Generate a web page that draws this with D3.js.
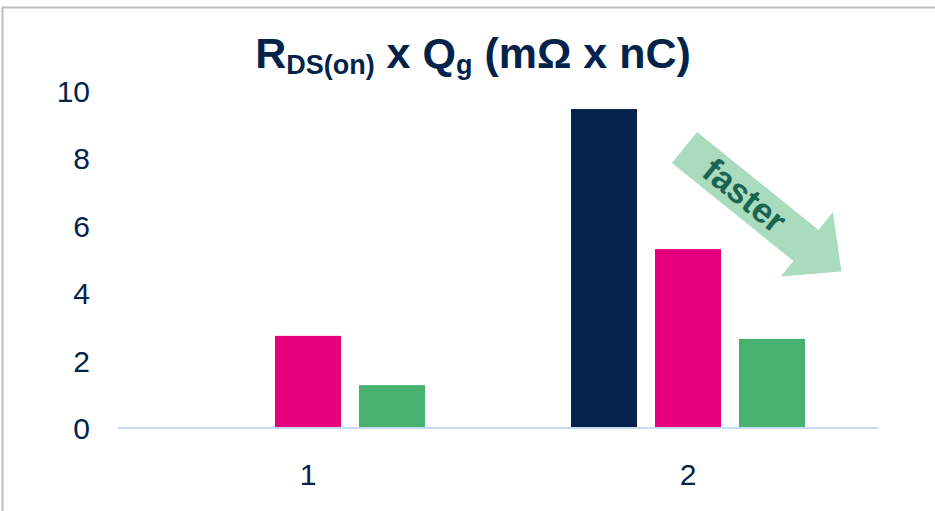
<!DOCTYPE html>
<html><head><meta charset="utf-8">
<script src="https://cdn.jsdelivr.net/npm/d3@7"></script>
<style>html,body{margin:0;padding:0;background:#fff;overflow:hidden}</style>
</head><body>
<svg id="c" width="935" height="511"></svg>
<script>
const categories = ["1", "2"];
const seriesNames = ["navy", "pink", "green"];
const navyValues = [null, 9.45];
const pinkValues = [2.73, 5.3];
const greenValues = [1.27, 2.64];
const yTicks = [0, 2, 4, 6, 8, 10];
const seriesColors = ["#03234B", "#E6007E", "#49B170"];

const font = "'Liberation Sans', Arial, sans-serif";
const navy = "#03234B";
const svg = d3.select("#c");

// frame
svg.append("path").attr("d", "M2.5,511 L2.5,7.5 L935,7.5")
  .attr("fill", "none").attr("stroke", "#BDBDBD").attr("stroke-width", 2);

const x0 = d3.scaleBand().domain(categories).range([118, 878]).paddingInner(0).paddingOuter(0);
const x1 = d3.scaleBand().domain(seriesNames).range([0, x0.bandwidth()]).paddingInner(0.214).paddingOuter(0.869);
const y = d3.scaleLinear().domain([0, 10]).range([428, 90.5]);

const seriesData = [navyValues, pinkValues, greenValues];
const rows = [];
categories.forEach((c, i) => seriesNames.forEach((s, j) => {
  const v = seriesData[j][i];
  if (v != null) rows.push({c, s, v, color: seriesColors[j]});
}));

svg.append("g").selectAll("rect").data(rows).join("rect")
  .attr("x", d => x0(d.c) + x1(d.s))
  .attr("width", x1.bandwidth())
  .attr("y", d => y(d.v))
  .attr("height", d => y(0) - y(d.v))
  .attr("fill", d => d.color);

// x axis baseline
svg.append("line").attr("x1", x0.range()[0]).attr("x2", x0.range()[1])
  .attr("y1", y(0)).attr("y2", y(0)).attr("stroke", "#C6DCF6").attr("stroke-width", 2);

// y axis labels
const yAxis = d3.axisLeft(y).tickValues(yTicks).tickSize(0).tickPadding(0);
const gy = svg.append("g").attr("transform", "translate(90,0)").call(yAxis);
gy.select(".domain").remove();
gy.selectAll("text").attr("font-family", font).attr("font-size", 30).attr("fill", navy).attr("dy", "0.35em");

// x axis labels
const xAxis = d3.axisBottom(x0).tickSize(0).tickPadding(0);
const gx = svg.append("g").attr("transform", "translate(0,474)").call(xAxis);
gx.select(".domain").remove();
gx.selectAll("text").attr("font-family", font).attr("font-size", 30).attr("fill", navy).attr("dy", "0.35em");

// title
const t = svg.append("text").attr("x", 473).attr("y", 68).attr("text-anchor", "middle")
  .attr("font-family", font).attr("font-weight", "bold").attr("font-size", 43).attr("fill", navy);
t.append("tspan").text("R");
t.append("tspan").attr("font-size", 27).attr("dy", 6).text("DS(on)");
t.append("tspan").attr("dy", -6).text(" x Q");
t.append("tspan").attr("font-size", 27).attr("dy", 6).text("g");
t.append("tspan").attr("dy", -6).text(" (mΩ x nC)");

// "faster" arrow annotation
const ang = 38.9;
const ag = svg.append("g").attr("transform", `translate(684.5,147.5) rotate(${ang})`);
ag.append("path")
  .attr("d", "M0,-20 L156,-20 L156,-43 L200,-2 L156,40 L156,20 L0,20 Z")
  .attr("fill", "#A9DBBF");
ag.append("text").attr("x", 77).attr("y", -1).attr("dy", "0.36em").attr("text-anchor", "middle")
  .attr("font-family", font).attr("font-weight", "bold").attr("font-size", 35).attr("fill", "#1B6452")
  .text("faster");
</script>
</body></html>
